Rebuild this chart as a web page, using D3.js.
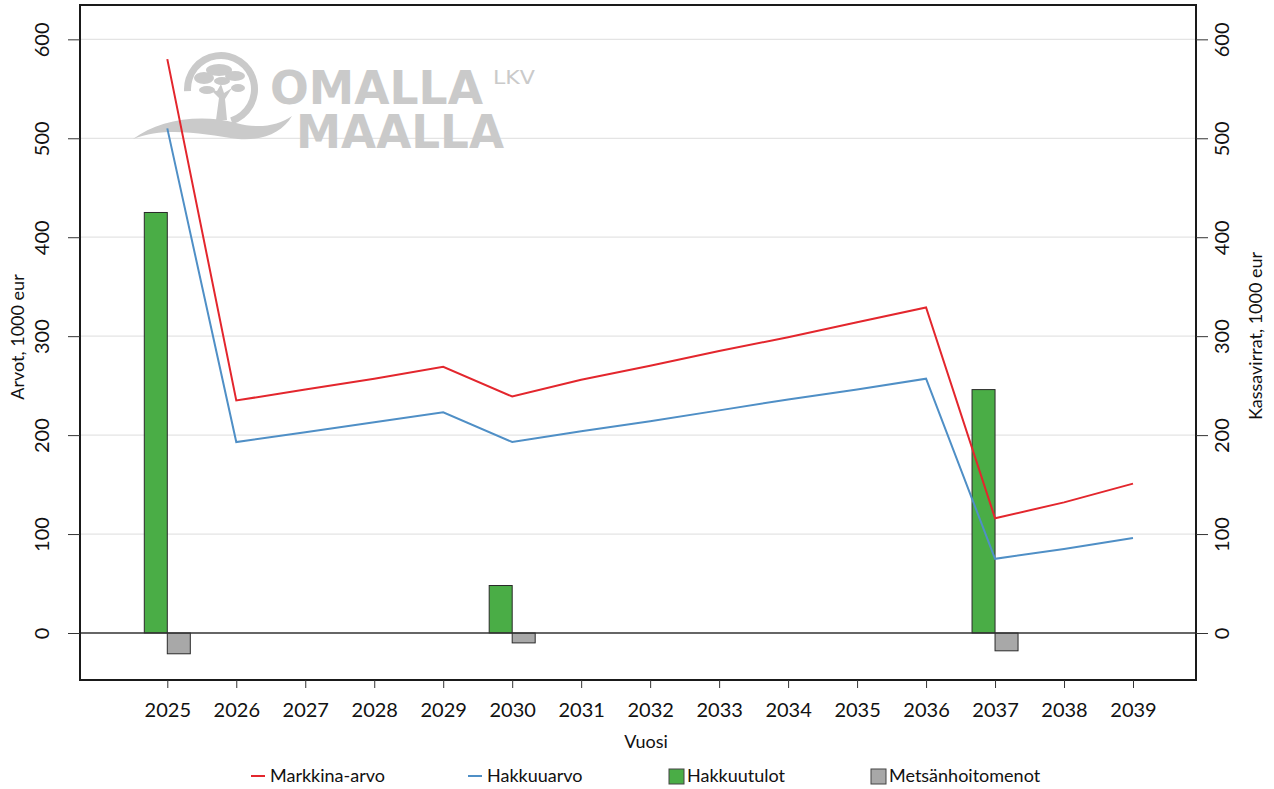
<!DOCTYPE html>
<html>
<head>
<meta charset="utf-8">
<script src="https://cdn.jsdelivr.net/npm/d3@7/dist/d3.min.js"></script>
<style>
  html, body { margin: 0; padding: 0; background: #fff; }
  svg text { font-family: Lato, "Open Sans", sans-serif; fill: #111; }
</style>
</head>
<body>
<svg id="chart" width="1274" height="789"></svg>
<script>
const W = 1274, H = 789;

// Data (1000 eur)
const years = [2025, 2026, 2027, 2028, 2029, 2030, 2031, 2032, 2033, 2034, 2035, 2036, 2037, 2038, 2039];
const markkinaArvo = [580, 235, 246, 257, 269, 239, 256, 270, 285, 299, 314, 329, 116, 132, 151];
const hakkuuarvo   = [510, 193, 203, 213, 223, 193, 204, 214, 225, 236, 246, 257, 75, 85, 96];
const barYears         = [2025, 2030, 2037];
const hakkuutulot      = [425, 48, 246];
const metsanhoitomenot = [-21, -10, -18];
const yTicks = [0, 100, 200, 300, 400, 500, 600];
const legendItems = [
  { label: 'Markkina-arvo',    type: 'line', color: '#e3262d' },
  { label: 'Hakkuuarvo',       type: 'line', color: '#4f8fc6' },
  { label: 'Hakkuutulot',      type: 'rect', color: '#4aad46' },
  { label: 'Metsänhoitomenot', type: 'rect', color: '#a8a8a8' }
];

// plot frame
const frame = { left: 80, right: 1196, top: 5, bottom: 680 };

const x = d3.scalePoint().domain(years).range([167.3, 1133]);
const y = d3.scaleLinear().domain([-47.5, 634.7]).range([frame.bottom, frame.top]);
const barW = 23;

const svg = d3.select('#chart');

// gridlines
svg.append('g')
  .selectAll('line')
  .data(yTicks.filter(d => d !== 0))
  .join('line')
  .attr('x1', frame.left).attr('x2', frame.right)
  .attr('y1', d => y(d)).attr('y2', d => y(d))
  .attr('stroke', '#e4e4e4').attr('stroke-width', 1.2);

// watermark logo
const GREY = '#cacaca';
const logo = svg.append('g').attr('fill', GREY).attr('stroke', 'none');
logo.append('path')
  .attr('d', d3.arc()({ innerRadius: 30, outerRadius: 37, startAngle: -0.52 * Math.PI, endAngle: 0.9 * Math.PI }))
  .attr('transform', 'translate(221,89)');
// swoosh
logo.append('path')
  .attr('d', 'M133,139 C158,120 200,113 236,123 C258,129 278,126 292,116 C282,133 262,141 238,139 C204,134 166,126 133,139 Z');
// tree: trunk + canopy
logo.append('path')
  .attr('d', 'M216,120 L219,98 L211,90 L217,91 L221,84 L224,93 L232,88 L225,99 L227,120 Z');
[[204, 78, 10, 6], [219, 70, 13, 6], [235, 76, 10, 5], [207, 90, 8, 4], [238, 88, 7, 4], [222, 81, 8, 4]]
  .forEach(e => logo.append('ellipse').attr('cx', e[0]).attr('cy', e[1]).attr('rx', e[2]).attr('ry', e[3]));
logo.append('text')
  .attr('x', 270).attr('y', 104)
  .attr('font-size', 47).attr('font-weight', 900)
  .style('fill', GREY).style('font-family', '"DejaVu Sans", sans-serif')
  .attr('textLength', 213).attr('lengthAdjust', 'spacingAndGlyphs')
  .text('OMALLA');
logo.append('text')
  .attr('x', 296).attr('y', 148)
  .attr('font-size', 47).attr('font-weight', 900)
  .style('fill', GREY).style('font-family', '"DejaVu Sans", sans-serif')
  .attr('textLength', 208).attr('lengthAdjust', 'spacingAndGlyphs')
  .text('MAALLA');
logo.append('text')
  .attr('x', 493).attr('y', 84)
  .attr('font-size', 20)
  .style('fill', GREY).style('font-family', '"DejaVu Sans", sans-serif')
  .attr('textLength', 42).attr('lengthAdjust', 'spacingAndGlyphs')
  .text('LKV');

// bars
svg.append('g')
  .selectAll('rect')
  .data(barYears.map((yr, i) => ({ yr, v: hakkuutulot[i] })))
  .join('rect')
  .attr('x', d => x(d.yr) - barW)
  .attr('y', d => y(d.v))
  .attr('width', barW)
  .attr('height', d => y(0) - y(d.v))
  .attr('fill', legendItems[2].color)
  .attr('stroke', '#2a2a2a').attr('stroke-width', 1);

svg.append('g')
  .selectAll('rect')
  .data(barYears.map((yr, i) => ({ yr, v: metsanhoitomenot[i] })))
  .join('rect')
  .attr('x', d => x(d.yr))
  .attr('y', y(0))
  .attr('width', barW)
  .attr('height', d => y(d.v) - y(0))
  .attr('fill', legendItems[3].color)
  .attr('stroke', '#2a2a2a').attr('stroke-width', 1);

// zero line
svg.append('line')
  .attr('x1', frame.left).attr('x2', frame.right)
  .attr('y1', y(0)).attr('y2', y(0))
  .attr('stroke', '#333').attr('stroke-width', 1.3);

// lines
const lineGen = d3.line().x((d, i) => x(years[i])).y(d => y(d));
svg.append('path').datum(markkinaArvo)
  .attr('d', lineGen).attr('fill', 'none')
  .attr('stroke', legendItems[0].color).attr('stroke-width', 2);
svg.append('path').datum(hakkuuarvo)
  .attr('d', lineGen).attr('fill', 'none')
  .attr('stroke', legendItems[1].color).attr('stroke-width', 2);

// frame
svg.append('rect')
  .attr('x', frame.left).attr('y', frame.top)
  .attr('width', frame.right - frame.left).attr('height', frame.bottom - frame.top)
  .attr('fill', 'none').attr('stroke', '#1a1a1a').attr('stroke-width', 2);

// left axis (labels rotated)
const leftAx = svg.append('g').attr('transform', `translate(${frame.left},0)`)
  .call(d3.axisLeft(y).tickValues(yTicks).tickSize(12).tickFormat(d3.format('d')));
leftAx.select('.domain').remove();
leftAx.selectAll('line').attr('stroke', '#333');
leftAx.selectAll('text')
  .attr('font-size', 20).attr('x', 0).attr('y', 0).attr('dy', 0)
  .attr('text-anchor', 'middle')
  .attr('transform', 'translate(-31,0) rotate(-90)');

// right axis
const rightAx = svg.append('g').attr('transform', `translate(${frame.right},0)`)
  .call(d3.axisRight(y).tickValues(yTicks).tickSize(12).tickFormat(d3.format('d')));
rightAx.select('.domain').remove();
rightAx.selectAll('line').attr('stroke', '#333');
rightAx.selectAll('text')
  .attr('font-size', 20).attr('x', 0).attr('y', 0).attr('dy', 0)
  .attr('text-anchor', 'middle')
  .attr('transform', 'translate(33,0) rotate(-90)');

// bottom axis
const botAx = svg.append('g').attr('transform', `translate(0,${frame.bottom})`)
  .call(d3.axisBottom(x).tickSize(8).tickFormat(d3.format('d')));
botAx.select('.domain').remove();
botAx.selectAll('line').attr('stroke', '#333');
botAx.selectAll('text').attr('font-size', 20).attr('dy', 0).attr('y', 37);

// axis titles
svg.append('text')
  .attr('transform', 'translate(24,337) rotate(-90)')
  .attr('text-anchor', 'middle').attr('font-size', 18)
  .text('Arvot, 1000 eur');
svg.append('text')
  .attr('transform', 'translate(1262,336) rotate(-90)')
  .attr('text-anchor', 'middle').attr('font-size', 18)
  .text('Kassavirrat, 1000 eur');
svg.append('text')
  .attr('x', 646).attr('y', 748)
  .attr('text-anchor', 'middle').attr('font-size', 18)
  .text('Vuosi');

// legend
const legX = [251, 468, 669, 871];
const leg = svg.append('g');
legendItems.forEach((it, i) => {
  const g = leg.append('g').attr('transform', `translate(${legX[i]},776)`);
  if (it.type === 'line') {
    g.append('line').attr('x1', 0).attr('x2', 14).attr('y1', 0).attr('y2', 0)
      .attr('stroke', it.color).attr('stroke-width', 2);
    g.append('text').attr('x', 19).attr('y', 6).attr('font-size', 18).text(it.label);
  } else {
    g.append('rect').attr('x', 0).attr('y', -7).attr('width', 15).attr('height', 15)
      .attr('fill', it.color).attr('stroke', '#444').attr('stroke-width', 1);
    g.append('text').attr('x', 18).attr('y', 6).attr('font-size', 18).text(it.label);
  }
});
</script>
</body>
</html>
